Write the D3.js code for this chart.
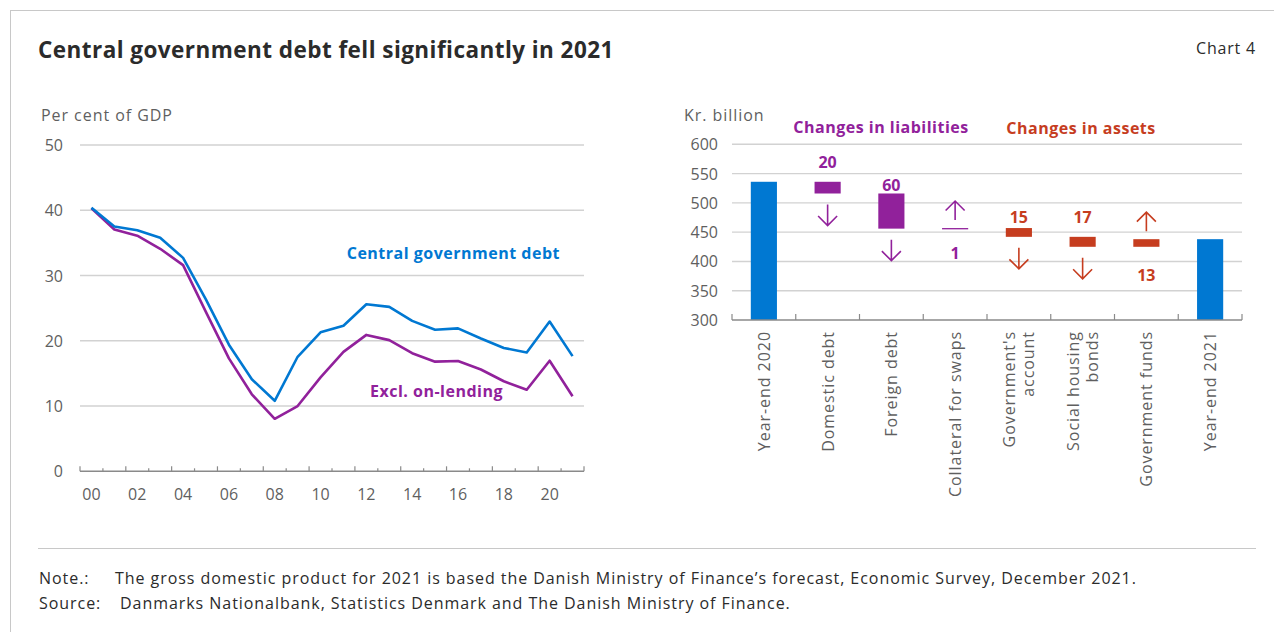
<!DOCTYPE html>
<html>
<head>
<meta charset="utf-8">
<script src="https://cdn.jsdelivr.net/npm/d3@7"></script>
<style>
  html, body { margin: 0; padding: 0; background: #fff; }
  svg { display: block; font-family: "Open Sans", "Noto Sans", sans-serif; }
  .label { font-size: 16px; letter-spacing: 0.95px; }
  .strong { font-size: 16px; font-weight: 700; letter-spacing: 0.5px; }
  .tick { font-size: 16px; }
</style>
</head>
<body>
<svg id="chart" width="1274" height="632"></svg>
<script>
// ---- Left panel: central government debt, per cent of GDP ----
const yearLabels = ["00","01","02","03","04","05","06","07","08","09","10",
                    "11","12","13","14","15","16","17","18","19","20","21"];
const debtTotal = [40.4, 37.5, 36.95, 35.8, 32.7, 26.3, 19.4, 14.1, 10.8, 17.55, 21.3,
                   22.3, 25.6, 25.2, 23.05, 21.7, 21.9, 20.35, 18.9, 18.2, 22.95, 17.65];
const debtExclOnLending = [40.3, 37.05, 36.1, 34.1, 31.6, 24.4, 17.3, 11.8, 8.05, 10.0, 14.4,
                           18.3, 20.9, 20.1, 18.1, 16.8, 16.9, 15.6, 13.8, 12.5, 16.95, 11.5];
const leftTicks = [0, 10, 20, 30, 40, 50];

// ---- Right panel: change from year-end 2020 to year-end 2021, kr. billion ----
const wfCategories = ["Year-end 2020", "Domestic debt", "Foreign debt", "Collateral for swaps",
                      "Government's\naccount", "Social housing\nbonds", "Government funds", "Year-end 2021"];
const wfKind = ["total", "liability", "liability", "liability", "asset", "asset", "asset", "total"];
const wfChanges = [null, -20, -60, 1, -15, -17, 13, null];
const wfTotals = [536, null, null, null, null, null, null, 438];
const rightTicks = [300, 350, 400, 450, 500, 550, 600];

const COLORS = { total: "#0078d2", liability: "#91219b", asset: "#c63d1f",
                 grid: "#d2d2d2", axis: "#8a8a8a", text: "#5f5f5f", dark: "#2b2b2b" };

const svg = d3.select("#chart");

// frame
svg.append("line").attr("x1", 10).attr("x2", 1274).attr("y1", 10.5).attr("y2", 10.5)
   .attr("stroke", "#c8c8c8").attr("stroke-width", 1);
svg.append("line").attr("x1", 10.5).attr("x2", 10.5).attr("y1", 10).attr("y2", 632)
   .attr("stroke", "#c8c8c8").attr("stroke-width", 1);

// header
svg.append("text").attr("x", 38).attr("y", 58)
   .attr("font-size", 22.5).attr("font-weight", 700).attr("letter-spacing", 0.45)
   .attr("fill", COLORS.dark)
   .text("Central government debt fell significantly in 2021");
svg.append("text").attr("x", 1256).attr("y", 54).attr("text-anchor", "end")
   .attr("font-size", 16).attr("letter-spacing", 0.8)
   .attr("fill", COLORS.dark).text("Chart 4");

// ================= left panel =================
const xL = d3.scaleBand().domain(yearLabels).range([80, 584]).padding(0);
const yL = d3.scaleLinear().domain([0, 50]).range([471.3, 145]);
const left = svg.append("g");

left.append("text").attr("class", "label").attr("x", 41).attr("y", 121)
    .attr("fill", COLORS.text).text("Per cent of GDP");

// gridlines and y labels
left.selectAll("line.grid").data(leftTicks.filter(t => t > 0)).join("line")
    .attr("class", "grid")
    .attr("x1", 80).attr("x2", 584)
    .attr("y1", d => yL(d)).attr("y2", d => yL(d))
    .attr("stroke", COLORS.grid).attr("stroke-width", 1.4);
left.selectAll("text.ytick").data(leftTicks).join("text")
    .attr("class", "ytick tick")
    .attr("x", 63).attr("y", d => yL(d) + 6).attr("text-anchor", "end")
    .attr("fill", COLORS.text).text(d => d);

// x axis: baseline, boundary ticks, labels under every other year
left.append("line").attr("x1", 80).attr("x2", 584).attr("y1", yL(0)).attr("y2", yL(0))
    .attr("stroke", COLORS.axis).attr("stroke-width", 1.4);
const boundaries = yearLabels.map(d => xL(d)).concat([xL(yearLabels[yearLabels.length - 1]) + xL.bandwidth()]);
left.selectAll("line.xtick").data(boundaries).join("line")
    .attr("class", "xtick")
    .attr("x1", d => d).attr("x2", d => d)
    .attr("y1", yL(0)).attr("y2", (d, i) => yL(0) - (i % 2 === 0 ? 5 : 3))
    .attr("stroke", COLORS.axis).attr("stroke-width", 1.2);
left.selectAll("text.xlab").data(yearLabels.filter((d, i) => i % 2 === 0)).join("text")
    .attr("class", "xlab tick")
    .attr("x", d => xL(d) + xL.bandwidth() / 2).attr("y", 500)
    .attr("text-anchor", "middle").attr("fill", COLORS.text)
    .text(d => d);

const line = d3.line()
    .x((d, i) => xL(yearLabels[i]) + xL.bandwidth() / 2)
    .y(d => yL(d));
left.append("path").datum(debtExclOnLending).attr("d", line)
    .attr("fill", "none").attr("stroke", COLORS.liability).attr("stroke-width", 2.6)
    .attr("stroke-linejoin", "round");
left.append("path").datum(debtTotal).attr("d", line)
    .attr("fill", "none").attr("stroke", COLORS.total).attr("stroke-width", 2.6)
    .attr("stroke-linejoin", "round");

left.append("text").attr("class", "strong").attr("x", 560).attr("y", 259).attr("text-anchor", "end")
    .attr("fill", COLORS.total).text("Central government debt");
left.append("text").attr("class", "strong").attr("x", 503).attr("y", 397).attr("text-anchor", "end")
    .attr("fill", COLORS.liability).text("Excl. on-lending");

// ================= right panel =================
const xR = d3.scaleBand().domain(wfCategories).range([732, 1242])
    .paddingInner(0.59).paddingOuter(0.295);
const yR = d3.scaleLinear().domain([300, 600]).range([320, 144.3]);
const right = svg.append("g");

right.append("text").attr("class", "label").attr("x", 684).attr("y", 121)
     .attr("fill", COLORS.text).text("Kr. billion");

right.selectAll("line.grid").data(rightTicks.filter(t => t > 300)).join("line")
     .attr("class", "grid")
     .attr("x1", 732).attr("x2", 1242)
     .attr("y1", d => yR(d)).attr("y2", d => yR(d))
     .attr("stroke", COLORS.grid).attr("stroke-width", 1.4);
right.selectAll("text.ytick").data(rightTicks).join("text")
     .attr("class", "ytick tick")
     .attr("x", 718).attr("y", d => yR(d) + 6).attr("text-anchor", "end")
     .attr("fill", COLORS.text).text(d => d);

// group headings
right.append("text").attr("class", "strong").attr("x", 881).attr("y", 133).attr("text-anchor", "middle")
     .attr("fill", COLORS.liability).text("Changes in liabilities");
right.append("text").attr("class", "strong").attr("x", 1081).attr("y", 134).attr("text-anchor", "middle")
     .attr("fill", COLORS.asset).text("Changes in assets");

// waterfall geometry from the running level
let level = 0;
const steps = wfCategories.map((c, i) => {
  if (wfKind[i] === "total") {
    level = wfTotals[i];
    return { cat: c, kind: "total", lo: 300, hi: level, change: null };
  }
  const from = level;
  level = level + wfChanges[i];
  return { cat: c, kind: wfKind[i], lo: Math.min(from, level), hi: Math.max(from, level), change: wfChanges[i] };
});

// label distance from the bar edge, per step
const labelGap = [0, 20, 8, 24, 11, 20, 28, 0];

right.selectAll("rect.bar").data(steps).join("rect")
     .attr("class", "bar")
     .attr("x", d => xR(d.cat)).attr("width", xR.bandwidth())
     .attr("y", d => yR(d.hi))
     .attr("height", d => Math.max(yR(d.lo) - yR(d.hi), 1.3))
     .attr("fill", d => COLORS[d.kind]);

const changes = steps.map((d, i) => Object.assign({ gap: labelGap[i] }, d)).filter(d => d.change !== null);

// arrows: down below a fall, up above a rise
function arrowPath(d) {
  const cx = xR(d.cat) + xR.bandwidth() / 2;
  const len = 21, head = 9.5;
  if (d.change < 0) {
    const y0 = yR(d.lo) + 11, y1 = y0 + len;
    return `M${cx},${y0}V${y1}M${cx - head},${y1 - head}L${cx},${y1}L${cx + head},${y1 - head}`;
  }
  const y1 = yR(d.hi) - 8, y0 = y1 - len + 2;
  return `M${cx},${y1}V${y0}M${cx - head},${y0 + head}L${cx},${y0}L${cx + head},${y0 + head}`;
}
right.selectAll("path.arrow").data(changes).join("path")
     .attr("class", "arrow").attr("d", arrowPath)
     .attr("fill", "none").attr("stroke", d => COLORS[d.kind]).attr("stroke-width", 1.6);

right.selectAll("text.value").data(changes).join("text")
     .attr("class", "value")
     .attr("x", d => xR(d.cat) + xR.bandwidth() / 2)
     .attr("y", d => d.change < 0 ? yR(d.hi) - d.gap + 6 : yR(d.lo) + d.gap + 6)
     .attr("text-anchor", "middle").attr("font-size", 16).attr("font-weight", 700)
     .attr("fill", d => COLORS[d.kind])
     .text(d => Math.abs(d.change));

// x axis with boundary ticks and rotated category names
right.append("line").attr("x1", 732).attr("x2", 1242).attr("y1", 320).attr("y2", 320)
     .attr("stroke", COLORS.axis).attr("stroke-width", 1.4);
const rb = wfCategories.map(c => xR(c) - (xR.step() - xR.bandwidth()) / 2).concat([1242]);
right.selectAll("line.xtick").data(rb).join("line")
     .attr("class", "xtick")
     .attr("x1", d => d).attr("x2", d => d).attr("y1", 320).attr("y2", 314)
     .attr("stroke", COLORS.axis).attr("stroke-width", 1.2);

const catLabels = right.selectAll("text.cat").data(wfCategories).join("text")
     .attr("class", "cat label")
     .attr("transform", d => `translate(${xR(d) + xR.bandwidth() / 2},331) rotate(-90)`)
     .attr("text-anchor", "end").attr("fill", COLORS.text);
catLabels.each(function (d) {
  const lines = d.split("\n");
  const t = d3.select(this);
  lines.forEach((ln, k) => {
    t.append("tspan").attr("x", 0)
     .attr("y", 6 + (k - (lines.length - 1) / 2) * 19)
     .text(ln);
  });
});

// note and source
svg.append("line").attr("x1", 38).attr("x2", 1256).attr("y1", 548.5).attr("y2", 548.5)
   .attr("stroke", "#c8c8c8").attr("stroke-width", 1);
const notes = [
  ["Note.:", "The gross domestic product for 2021 is based the Danish Ministry of Finance\u2019s forecast, Economic Survey, December 2021.", 115, 584],
  ["Source:", "Danmarks Nationalbank, Statistics Denmark and The Danish Ministry of Finance.", 120, 609]
];
notes.forEach(([k, v, x, y]) => {
  svg.append("text").attr("class", "label").attr("x", 39).attr("y", y).attr("fill", COLORS.dark).text(k);
  svg.append("text").attr("class", "label").attr("x", x).attr("y", y).attr("fill", COLORS.dark).text(v);
});
</script>
</body>
</html>
